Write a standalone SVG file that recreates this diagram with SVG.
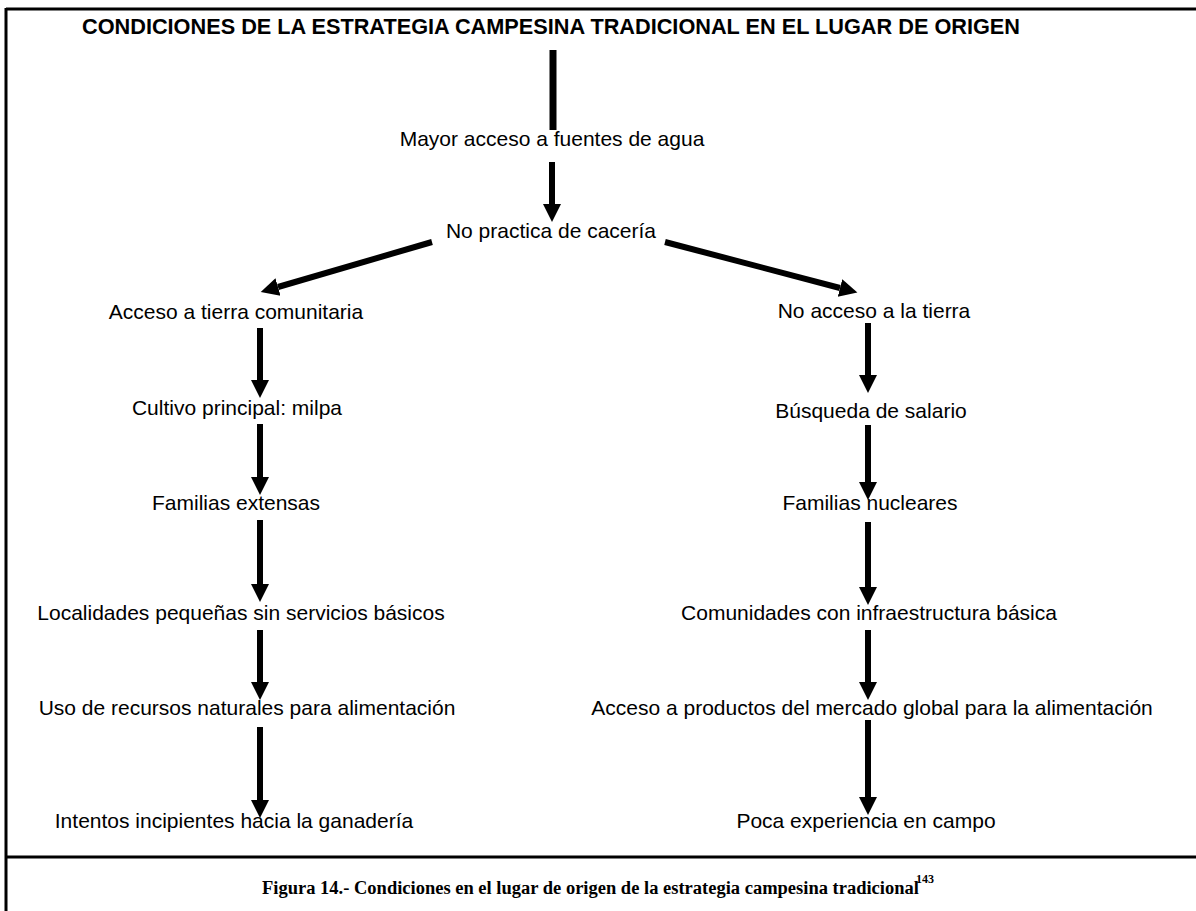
<svg xmlns="http://www.w3.org/2000/svg" width="1196" height="911" viewBox="0 0 1196 911">
<style>
.t{font-family:"Liberation Sans",Arial,sans-serif;font-size:21px;fill:#000;text-anchor:middle}
.h{font-family:"Liberation Sans",Arial,sans-serif;font-size:21.5px;font-weight:bold;fill:#000}
.c{font-family:"Liberation Serif","Times New Roman",serif;font-size:18.5px;font-weight:bold;fill:#000}
.s{font-family:"Liberation Serif","Times New Roman",serif;font-size:12px;font-weight:bold;fill:#000}
.a{stroke:#000;stroke-width:6;fill:none}
.f{stroke:#000;stroke-width:3;fill:none}
</style>
<defs>
<marker id="ah" markerUnits="userSpaceOnUse" markerWidth="20" markerHeight="20" viewBox="0 0 20 20" refX="0" refY="10" orient="auto">
<path d="M0,1 L18,10 L0,19 Z" fill="#000"/>
</marker>
</defs>
<rect width="1196" height="911" fill="#fff"/>
<g id="frame">
<line class="f" x1="6" y1="9" x2="1196" y2="9"/>
<line class="f" x1="6" y1="8" x2="6" y2="911"/>
<line class="f" x1="6" y1="857" x2="1196" y2="857"/>
</g>
<g id="connectors">
<line x1="553" y1="50" x2="553" y2="130" stroke="#000" stroke-width="7"/>
<line class="a" x1="552" y1="162" x2="552" y2="204" marker-end="url(#ah)"/>
<line class="a" x1="432" y1="242" x2="278" y2="287" marker-end="url(#ah)"/>
<line class="a" x1="665" y1="242" x2="840" y2="288" marker-end="url(#ah)"/>
<line class="a" x1="260" y1="328" x2="260" y2="380" marker-end="url(#ah)"/>
<line class="a" x1="260" y1="424" x2="260" y2="477" marker-end="url(#ah)"/>
<line class="a" x1="260" y1="520" x2="260" y2="584" marker-end="url(#ah)"/>
<line class="a" x1="260" y1="630" x2="260" y2="682" marker-end="url(#ah)"/>
<line class="a" x1="260" y1="727" x2="260" y2="800" marker-end="url(#ah)"/>
<line class="a" x1="868" y1="323" x2="868" y2="375" marker-end="url(#ah)"/>
<line class="a" x1="868" y1="425" x2="868" y2="482" marker-end="url(#ah)"/>
<line class="a" x1="868" y1="522" x2="868" y2="587" marker-end="url(#ah)"/>
<line class="a" x1="868" y1="630" x2="868" y2="682" marker-end="url(#ah)"/>
<line class="a" x1="868" y1="720" x2="868" y2="797" marker-end="url(#ah)"/>
</g>
<g id="title"><text class="h" x="82" y="34" textLength="938" lengthAdjust="spacingAndGlyphs">CONDICIONES DE LA ESTRATEGIA CAMPESINA TRADICIONAL EN EL LUGAR DE ORIGEN</text></g>
<g id="n1"><text class="t" x="552" y="146">Mayor acceso a fuentes de agua</text></g>
<g id="n2"><text class="t" x="551" y="238">No practica de cacería</text></g>
<g id="l1"><text class="t" x="236" y="319">Acceso a tierra comunitaria</text></g>
<g id="l2"><text class="t" x="237" y="415">Cultivo principal: milpa</text></g>
<g id="l3"><text class="t" x="236" y="510">Familias extensas</text></g>
<g id="l4"><text class="t" x="241" y="620">Localidades pequeñas sin servicios básicos</text></g>
<g id="l5"><text class="t" x="247" y="715">Uso de recursos naturales para alimentación</text></g>
<g id="l6"><text class="t" x="234" y="828">Intentos incipientes hacia la ganadería</text></g>
<g id="r1"><text class="t" x="874" y="318">No acceso a la tierra</text></g>
<g id="r2"><text class="t" x="871" y="418">Búsqueda de salario</text></g>
<g id="r3"><text class="t" x="870" y="510">Familias nucleares</text></g>
<g id="r4"><text class="t" x="869" y="620">Comunidades con infraestructura básica</text></g>
<g id="r5"><text class="t" x="872" y="715">Acceso a productos del mercado global para la alimentación</text></g>
<g id="r6"><text class="t" x="866" y="828">Poca experiencia en campo</text></g>
<g id="caption">
<text class="c" x="262" y="894">Figura 14.- Condiciones en el lugar de origen de la estrategia campesina tradicional</text>
<text class="s" x="916" y="883">143</text>
</g>
</svg>
